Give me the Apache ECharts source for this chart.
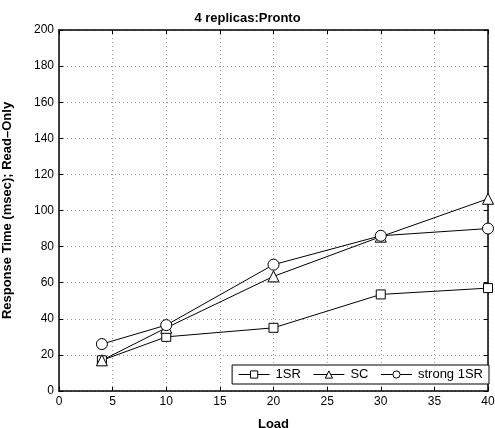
<!DOCTYPE html>
<html>
<head>
<meta charset="utf-8">
<script src="https://cdn.jsdelivr.net/npm/echarts@6/dist/echarts.min.js"></script>
<style>
  html, body { margin: 0; padding: 0; background: #fff; }
  #chart { width: 495px; height: 428px; }
</style>
</head>
<body>
<div id="chart"></div>
<script>
// values
var loads = [4, 10, 20, 30, 40]
var oneSR = [17, 30, 35, 53.5, 57]
var sc = [17, 35, 63.5, 85.5, 106.5]
var strong1SR = [26, 36.5, 70, 86, 90]
var seriesNames = ['1SR', 'SC', 'strong 1SR']

function pairs(ys) {
  return loads.map(function (x, i) { return [x, ys[i]] })
}

var font = 'Liberation Sans, Arial, sans-serif'
var gridLine = { show: true, lineStyle: { color: '#999', type: [1, 3], width: 1 } }

var chart = echarts.init(document.getElementById('chart'))

function lineSeries(name, ys, symbol, size) {
  return {
    name: name,
    type: 'line',
    data: pairs(ys),
    symbol: symbol,
    symbolSize: size,
    showAllSymbol: true,
    lineStyle: { color: '#000', width: 1 },
    itemStyle: { color: '#fff', borderColor: '#000', borderWidth: 1 },
    emphasis: { disabled: true },
    animation: false,
  }
}

chart.setOption({
  animation: false,
  title: {
    text: '4 replicas:Pronto',
    left: 'center',
    top: 7,
    textStyle: { fontFamily: font, fontSize: 13, fontWeight: 'bold', color: '#000' },
  },
  grid: { left: 59, right: 7, top: 30, bottom: 37, containLabel: false, outerBoundsMode: 'none' },
  legend: {
    data: seriesNames,
    right: 6,
    bottom: 44,
    orient: 'horizontal',
    itemWidth: 31,
    itemHeight: 9,
    itemGap: 12,
    padding: [3, 6, 3, 6],
    borderColor: '#000',
    borderWidth: 1,
    borderRadius: 0,
    backgroundColor: '#fff',
    lineStyle: { width: 1, color: '#000' },
    itemStyle: { color: '#fff', borderColor: '#000', borderWidth: 1 },
    textStyle: { fontFamily: font, fontSize: 13, color: '#000', padding: [0, 0, 0, 1] },
  },
  xAxis: [
    {
      type: 'value',
      min: 0,
      max: 40,
      interval: 5,
      name: 'Load',
      nameLocation: 'middle',
      nameGap: 27,
      nameTextStyle: { fontFamily: font, fontSize: 13, fontWeight: 'bold', color: '#000' },
      axisLine: { lineStyle: { color: '#000', width: 1.5 } },
      axisTick: { inside: true, length: 4, lineStyle: { color: '#000' } },
      axisLabel: { fontFamily: font, fontSize: 12, color: '#000', margin: 5 },
      splitLine: gridLine,
    },
    {
      type: 'value',
      position: 'top',
      min: 0,
      max: 40,
      interval: 5,
      axisLine: { onZero: false, lineStyle: { color: '#000', width: 1.5 } },
      axisTick: { inside: true, length: 4, lineStyle: { color: '#000' } },
      axisLabel: { show: false },
      splitLine: { show: false },
    },
  ],
  yAxis: [
    {
      type: 'value',
      min: 0,
      max: 200,
      interval: 20,
      name: 'Response Time (msec); Read\u2013Only',
      nameLocation: 'middle',
      nameGap: 45,
      nameTextStyle: { fontFamily: font, fontSize: 13, fontWeight: 'bold', color: '#000' },
      axisLine: { show: true, lineStyle: { color: '#000', width: 1.5 } },
      axisTick: { show: true, inside: true, length: 4, lineStyle: { color: '#000' } },
      axisLabel: { fontFamily: font, fontSize: 12, color: '#000', margin: 5 },
      splitLine: gridLine,
    },
    {
      type: 'value',
      position: 'right',
      min: 0,
      max: 200,
      interval: 20,
      axisLine: { show: true, onZero: false, lineStyle: { color: '#000', width: 1.5 } },
      axisTick: { show: true, inside: true, length: 4, lineStyle: { color: '#000' } },
      axisLabel: { show: false },
      splitLine: { show: false },
    },
  ],
  series: [
    lineSeries(seriesNames[0], oneSR, 'rect', 9),
    lineSeries(seriesNames[1], sc, 'triangle', 11),
    lineSeries(seriesNames[2], strong1SR, 'circle', 11),
  ],
})
</script>
</body>
</html>
